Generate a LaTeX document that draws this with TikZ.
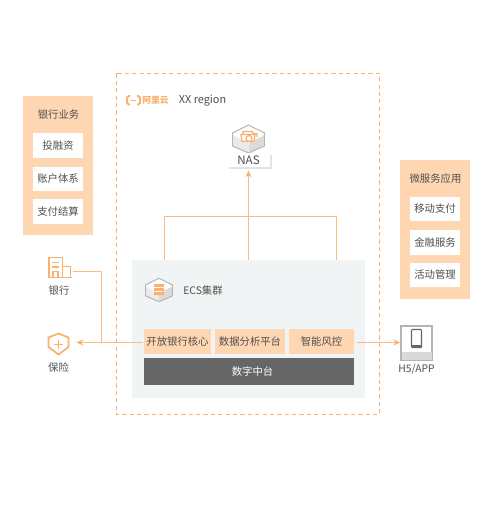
\documentclass[tikz,border=0pt]{standalone}
\usepackage{fontspec}
\setmainfont{Noto Sans CJK SC}
\usetikzlibrary{
  arrows.meta,
  shadows
}
\definecolor{corange}{RGB}{250,176,110}
\definecolor{cline}{RGB}{251,186,128}
\definecolor{lorange}{RGB}{255,214,178}
\definecolor{lgray}{RGB}{240,244,245}
\definecolor{cdark}{RGB}{102,102,102}
\definecolor{ctext}{RGB}{80,80,80}
\definecolor{cedge}{RGB}{180,180,180}
\tikzset{
  lbl/.style={
    inner sep=0pt, text=ctext, align=center,
    font=\fontsize{5.9}{7}\selectfont
  },
  panel/.style={
    rectangle, fill=lorange, inner sep=0pt,
    minimum width=1.4cm, minimum height=2.78cm
  },
  whitebox/.style={
    lbl, rectangle, fill=white,
    minimum width=1cm, minimum height=0.49cm
  },
  module/.style={
    lbl, rectangle, fill=lorange,
    minimum height=0.5cm
  },
  spot/.style={rectangle, inner sep=0pt},
  link/.style={line width=0.6pt, color=cline},
  arr/.style={link, -{Stealth[length=0.14cm,width=0.12cm,color=corange]}},
  icon/.style={line width=1pt, color=corange},
  isobox/.pic={
    \fill[white]
      (0,-14)--(16,-6)--(16,7)--(0,14)--(-16,7)--(-16,-6)--cycle;
    \fill[black!14] (0,4)--(16,-4)--(16,7)--(0,14)--cycle;
    \fill[black!8] (0,4)--(-16,-4)--(-16,7)--(0,14)--cycle;
    \draw[cedge, line width=0.55pt, line join=round]
      (0,-14)--(16,-6)--(16,7)--(0,14)--(-16,7)--(-16,-6)--cycle;
  }
}

\begin{document}
\begin{tikzpicture}[x=0.02cm, y=-0.02cm]
  \useasboundingbox (0,0) rectangle (500,523);

  %% Region
  \draw[corange, line width=0.7pt, dash pattern=on 2.4pt off 1.8pt]
    (116.5,73.5) rectangle (379.5,414.5);

  %% Logo
  \draw[corange, line width=1.1pt, rounded corners=1pt] (130,96)--(127,96)--(127,104.5)--(130,104.5);
  \draw[corange, line width=1.1pt, rounded corners=1pt] (137,96)--(140,96)--(140,104.5)--(137,104.5);
  \draw[corange, line width=0.8pt] (131,100.5)--(136,100.5);
  \node[lbl, text=corange, font=\fontsize{5}{6}\selectfont\bfseries] (logo) at (155.5,100.5) {阿里云};
  \node[lbl, anchor=west, font=\fontsize{6.2}{7}\selectfont] (region) at (178.5,101) {XX region};

  %% Left panel
  \node[panel] (bizpanel) at (58,165.5) {};
  \node[lbl] (biztitle) at (58.5,115) {银行业务};
  \node[whitebox] (invest) at (58,145.5) {投融资};
  \node[whitebox] (account) at (58,179) {账户体系};
  \node[whitebox] (payment) at (58,211.5) {支付结算};

  %% Right panel
  \node[panel] (apppanel) at (435,229.5) {};
  \node[lbl] (apptitle) at (435.5,179) {微服务应用};
  \node[whitebox] (mobile) at (435,209) {移动支付};
  \node[whitebox] (finance) at (435,242.5) {金融服务};
  \node[whitebox] (activity) at (435,275) {活动管理};

  %% ECS
  \node[spot, fill=lgray, minimum width=4.66cm, minimum height=2.76cm] (ecs) at (248.5,329) {};
  \pic[scale=0.84] at (159,290) {isobox};
  \fill[corange] (154,284) rectangle (164,287)
    (154,288) rectangle (164,291) (154,292) rectangle (164,295);
  \node[lbl, anchor=west] (ecstitle) at (183,291) {ECS集群};
  \node[module, minimum width=1.34cm] (core) at (177.5,341.5) {开放银行核心};
  \node[module, minimum width=1.4cm] (data) at (250,341.5) {数据分析平台};
  \node[module, minimum width=1.3cm] (risk) at (321.5,341.5) {智能风控};
  \node[lbl, spot, fill=cdark, text=white, minimum width=4.2cm, minimum height=0.54cm] (middle) at (249,371.5) {\hspace*{0.14cm}数字中台};

  %% NAS
  \pic at (248.5,139) {isobox};
  \draw[corange, line width=0.7pt] (243,134.5)--(243,131.5)--(252,131.5)--(253,133.5)--(257,133.5)--(257,137)
    (241,134.5)--(255,134.5)--(254,141.5)--(242,141.5)--cycle;
  \draw[corange, fill=white, line width=0.7pt] (249,138.5) circle (3);
  \node[lbl, spot, fill=white, minimum width=0.86cm, minimum height=0.28cm, font=\fontsize{6.6}{8}\selectfont,
    drop shadow={shadow xshift=1.1pt, shadow yshift=-1.1pt, opacity=0.22}] (nas) at (248.5,160) {NAS};

  %% Bank
  \node[spot, minimum width=0.46cm, minimum height=0.42cm] (bank) at (59.5,267.5) {};
  \draw[icon] (49,278)--(49,257.5)--(62.5,257.5)--(62.5,278)
    (62.5,266.5)--(70.5,266.5)--(70.5,278) (48,277.5)--(71.5,277.5)
    (52,262.5)--(59,262.5) (52,267)--(59,267)
    (53,277.5)--(53,271.5)--(58,271.5)--(58,277.5);
  \node[lbl] (banklbl) at (59,290.5) {银行};

  %% Insurance
  \node[spot, minimum width=0.42cm, minimum height=0.44cm] (shield) at (58.5,344) {};
  \draw[icon] (58.5,333.5)--(68.5,337.5)--(68.5,347)--(58.5,354.5)--(48.5,347)--(48.5,337.5)--cycle;
  \draw[corange, line width=0.6pt] (54,344.5)--(63,344.5) (58.5,340)--(58.5,349);
  \node[lbl] (shieldlbl) at (58.5,367.5) {保险};

  %% H5 device
  \node[spot, fill=white, draw=cedge, line width=0.8pt, minimum width=0.62cm, minimum height=0.68cm] (device) at (416.5,343) {};
  \fill[black!15] (401.5,352) rectangle (431.5,359.5);
  \draw[black!60, line width=0.6pt, fill=white, rounded corners=0.5pt] (411.5,329.5) rectangle (421.5,347.5);
  \fill[black!60] (411.5,344.5) rectangle (421.5,347.5);
  \node[lbl] (devicelbl) at (416.5,369.5) {H5/APP};

  %% Connectors
  \coordinate (ecsleft) at (164.5,260);
  \coordinate (ecsright) at (336.5,260);
  \coordinate (bankout) at (73,271.5);
  \coordinate (merge) at (101.5,342.5);
  \draw[arr, shorten >=0.06cm] (ecs.north) -- (nas.south);
  \draw[link] (ecsleft) -- ++(0,-43.5) -| (ecsright);
  \draw[link] (bankout) -| (merge);
  \draw[arr, shorten <=0.02cm, shorten >=0.14cm] (core.west |- merge) -- (shield.east |- merge);
  \draw[arr, shorten <=0.06cm] (risk.east |- merge) -- (device.west |- merge);

\end{tikzpicture}
\end{document}
